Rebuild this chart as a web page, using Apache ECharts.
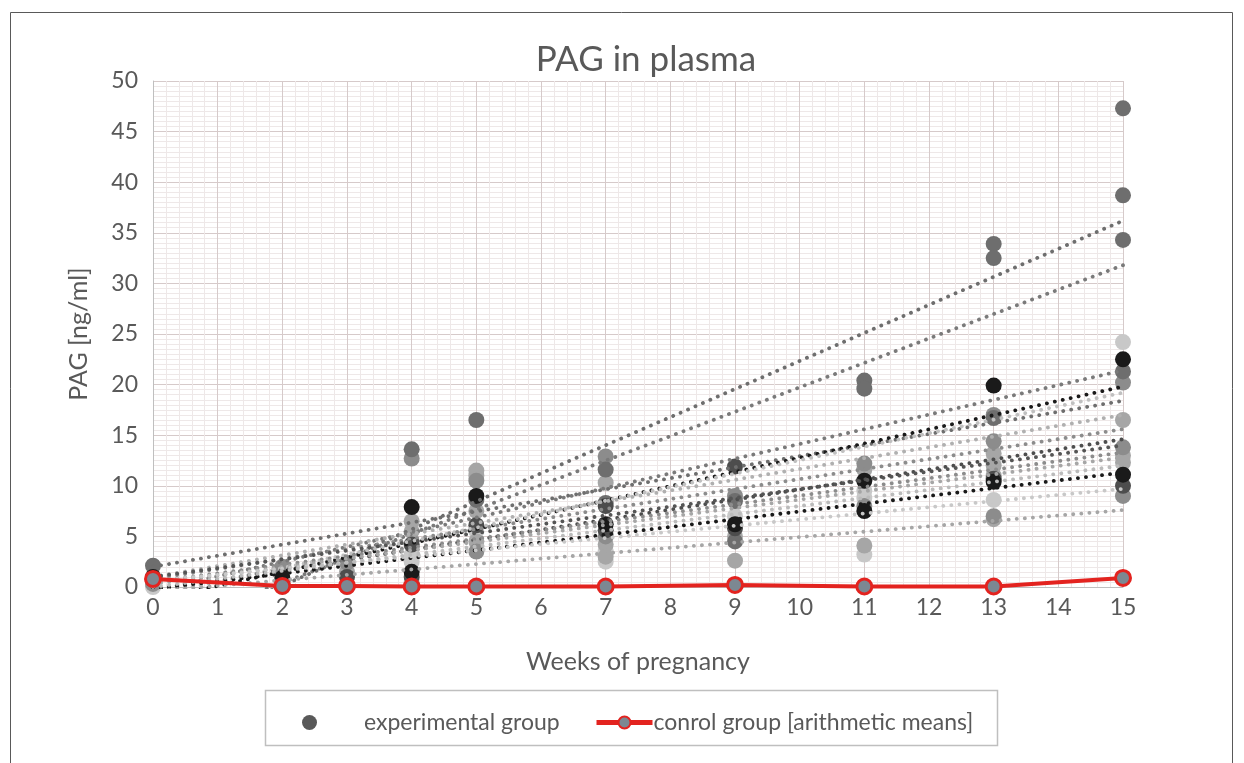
<!DOCTYPE html>
<html>
<head>
<meta charset="utf-8">
<script src="https://cdn.jsdelivr.net/npm/echarts@6/dist/echarts.min.js"></script>
<style>html,body{margin:0;padding:0;background:#fff}#c{width:1244px;height:763px}</style>
</head>
<body>
<div id="c"></div>
<script>
// ---- data (weeks, PAG ng/ml) ----
var xTicks = [0,1,2,3,4,5,6,7,8,9,10,11,12,13,14,15];
var yTicks = [0,5,10,15,20,25,30,35,40,45,50];

// experimental group points, grouped by marker shade
var expBlack = [[0,1.0],[2,0.9],[4,1.5],[4,7.9],[5,9.0],[7,6.2],[9,6.2],[11,10.5],[11,7.5],[13,19.9],[13,10.4],[15,22.5],[15,11.1]];
var expDark  = [[0,0.7],[3,1.0],[4,4.2],[4,1.0],[5,6.1],[7,8.0],[7,5.6],[9,5.8],[9,11.9],[13,10.7],[15,10.0]];
var expMid   = [[0,2.1],[4,13.6],[5,16.5],[5,8.6],[7,11.6],[7,8.3],[9,8.5],[9,4.5],[11,20.4],[11,19.6],[13,33.9],[13,32.5],[13,16.7],[15,47.3],[15,38.7],[15,34.3],[15,21.3]];
var expGray  = [[0,0.3],[2,2.0],[3,2.4],[4,12.7],[5,10.5],[5,3.5],[7,12.9],[7,5.0],[9,9.0],[11,12.2],[11,8.0],[13,17.0],[13,14.4],[13,7.0],[15,20.2],[15,13.8],[15,9.0]];
var expLight = [[2,1.5],[2,0.2],[3,1.5],[3,0],[4,6.5],[4,5.5],[5,11.5],[5,11.0],[5,7.5],[5,4.5],[7,10.3],[7,4.2],[7,3.0],[9,5.0],[9,2.6],[11,11.6],[11,4.1],[13,13.2],[13,12.0],[13,11.0],[13,6.7],[15,16.5],[15,13.0],[15,12.3]];
var expPale  = [[0,0],[2,0],[4,3.2],[4,2.5],[4,0.5],[4,0],[5,5.5],[7,3.5],[7,2.5],[9,7.0],[11,9.5],[11,8.8],[11,3.2],[13,12.5],[13,8.6],[15,24.2]];

// individual linear trend lines: value at week 0 and at week 15
var trendStart = [-5.4,-4.4, 2.0,-0.4,-1.3,-0.8, 1.0, 0.8,-0.3, 0.5, 0.3,-0.2, 0.6,-0.4, 1.0, 0.0];
var trendEnd   = [36.2,31.8,18.4,21.4,19.8,19.2,17.0,15.6,14.6,13.3,12.8,11.3, 9.7, 7.6,14.0,12.0];

// control group arithmetic means
var ctrlWeeks  = [0,2,3,4,5,7,9,11,13,15];
var ctrlValues = [0.8,0.1,0.1,0.05,0.05,0.05,0.2,0.05,0.05,0.9];

// ---- styles ----
var shadeColors = ['#1a1a1a','#4d4d4d','#6e6e6e','#8c8c8c','#a6a6a6','#c8c8c8'];
var trendColors = ['#6e6e6e','#7a7a7a','#6e6e6e','#7a7a7a','#1a1a1a','#c0c0c0','#b0b0b0','#8c8c8c','#4d4d4d','#8c8c8c','#a6a6a6','#1a1a1a','#c8c8c8','#a6a6a6','#555555','#bbbbbb'];
var FONT = 'Lato';
var TXT = '#595959';

var groups = [expPale, expLight, expGray, expMid, expDark, expBlack];
var groupColors = [shadeColors[5], shadeColors[4], shadeColors[3], shadeColors[2], shadeColors[1], shadeColors[0]];

var series = [];
groups.forEach(function (g, i) {
  series.push({
    name: 'experimental group', type: 'scatter', data: g, symbolSize: 16,
    itemStyle: {color: groupColors[i], opacity: 1}, z: 2, silent: true
  });
});
trendStart.forEach(function (s, i) {
  series.push({
    name: 'trend ' + (i + 1), type: 'line', data: [[0, s], [15, trendEnd[i]]],
    showSymbol: false, symbol: 'none', clip: true, z: 3, silent: true,
    lineStyle: {color: trendColors[i], width: 3.8, type: [0.1, 8], cap: 'round'}
  });
});
series.push({
  name: 'conrol group [arithmetic means]', type: 'line', z: 5,
  data: ctrlWeeks.map(function (w, i) { return [w, ctrlValues[i]]; }),
  symbol: 'circle', symbolSize: 15, showSymbol: true,
  lineStyle: {color: '#e3231f', width: 4},
  itemStyle: {color: '#7c8892', borderColor: '#e3231f', borderWidth: 3}
});

var chart = echarts.init(document.getElementById('c'));
chart.setOption({
  backgroundColor: '#fff',
  animation: false,
  title: {
    text: 'PAG in plasma', left: 641, textAlign: 'center', top: 37,
    textStyle: {fontFamily: FONT, fontSize: 35, fontWeight: 'normal', color: TXT}
  },
  grid: {left: 153, right: 121, top: 81, bottom: 176, containLabel: false},
  xAxis: {
    type: 'value', min: 0, max: 15, interval: 1,
    name: 'Weeks of pregnancy', nameLocation: 'middle', nameGap: 62,
    nameTextStyle: {fontFamily: FONT, fontSize: 25, color: TXT},
    axisLine: {show: true, lineStyle: {color: '#bfbfbf', width: 1}},
    axisTick: {show: false},
    axisLabel: {fontFamily: FONT, fontSize: 23, color: TXT, margin: 9,
      formatter: function (v) { return xTicks.indexOf(v) >= 0 ? String(v) : ''; }},
    splitLine: {show: true, lineStyle: {color: '#d6caca', width: 1}},
    minorTick: {show: false, splitNumber: 5},
    minorSplitLine: {show: true, lineStyle: {color: '#eee8e8', width: 1}}
  },
  yAxis: {
    type: 'value', min: 0, max: 50, interval: 5,
    name: 'PAG [ng/ml]', nameLocation: 'middle', nameGap: 62,
    nameTextStyle: {fontFamily: FONT, fontSize: 25, color: TXT},
    axisLine: {show: true, lineStyle: {color: '#bfbfbf', width: 1}},
    axisTick: {show: false},
    axisLabel: {fontFamily: FONT, fontSize: 23, color: TXT, margin: 15,
      formatter: function (v) { return yTicks.indexOf(v) >= 0 ? String(v) : ''; }},
    splitLine: {show: true, lineStyle: {color: '#d6caca', width: 1}},
    minorTick: {show: false, splitNumber: 10},
    minorSplitLine: {show: true, lineStyle: {color: '#eee8e8', width: 1}}
  },
  legend: [{
    data: [{name: 'experimental group', icon: 'circle', itemStyle: {color: '#595959'}}],
    left: 297, top: 706, itemWidth: 15, itemHeight: 15, selectedMode: false,
    textStyle: {fontFamily: FONT, fontSize: 23, color: TXT, padding: [0, 0, 0, 42]}
  }, {
    data: [{name: 'conrol group [arithmetic means]', lineStyle: {width: 5, color: '#e3231f'}}],
    left: 589, top: 706, itemWidth: 56, itemHeight: 15, selectedMode: false,
    textStyle: {fontFamily: FONT, fontSize: 23, color: TXT, padding: [0, 0, 0, -4]}
  }],
  graphic: [
    {type: 'rect', silent: true, z: -1, shape: {x: 10.5, y: 12.5, width: 1222, height: 760},
      style: {fill: 'none', stroke: '#595959', lineWidth: 1}},
    {type: 'rect', silent: true, z: -1, shape: {x: 265.5, y: 690.5, width: 732, height: 55},
      style: {fill: 'none', stroke: '#bfbfbf', lineWidth: 1.5}}
  ],
  series: series
});
</script>
</body>
</html>
